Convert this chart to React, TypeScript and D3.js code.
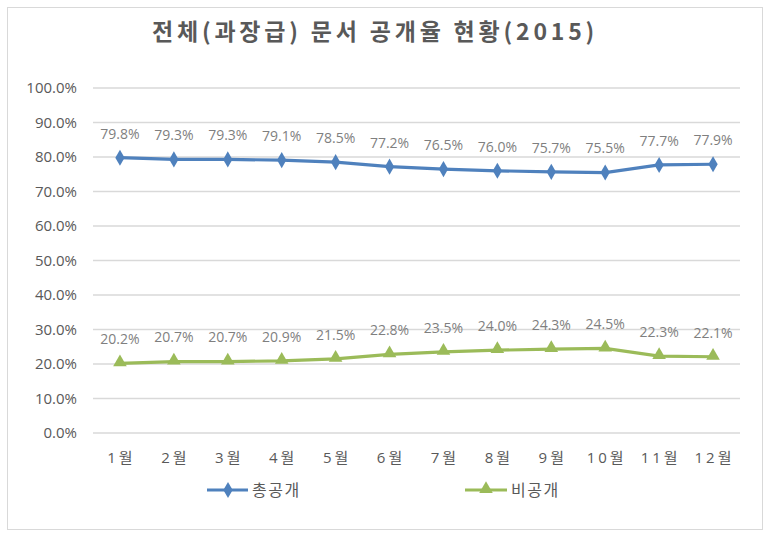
import React from 'react';
import * as d3 from 'd3';

const months = ['1월', '2월', '3월', '4월', '5월', '6월', '7월', '8월', '9월', '10월', '11월', '12월'];
const publicRate = [79.8, 79.3, 79.3, 79.1, 78.5, 77.2, 76.5, 76.0, 75.7, 75.5, 77.7, 77.9];
const privateRate = [20.2, 20.7, 20.7, 20.9, 21.5, 22.8, 23.5, 24.0, 24.3, 24.5, 22.3, 22.1];
const yTicks = [0, 10, 20, 30, 40, 50, 60, 70, 80, 90, 100];
const seriesNames = ['총공개', '비공개'];

const W = 771;
const H = 533;
const plot = { left: 93, right: 740, top: 88, bottom: 433 };
const font = "'Open Sans', 'Noto Sans CJK KR', sans-serif";
const blue = '#4F81BD';
const green = '#9BBB59';

const App = () => {
  const x = d3.scaleBand().domain(months).range([plot.left, plot.right]);
  const y = d3.scaleLinear().domain([0, 100]).range([plot.bottom, plot.top]);
  const cx = (m: string) => (x(m) as number) + x.bandwidth() / 2;

  const line = d3
    .line<number>()
    .x((_, i) => cx(months[i]))
    .y((d) => y(d));

  const diamond = d3.symbol(d3.symbolDiamond, 75)();
  const triangle = d3.symbol(d3.symbolTriangle, 80)();

  return (
    <svg
      width={W}
      height={H}
      style={{ position: 'absolute', left: 0, top: 0, background: '#fff' }}
      fontFamily={font}
    >
      <rect x={7.5} y={7.5} width={755} height={522} fill="#fff" stroke="#d9d9d9" />
      <text
        x={375}
        y={40}
        textAnchor="middle"
        fontSize={23}
        fontWeight="bold"
        fill="#595959"
        letterSpacing={3.8}
        fontFamily="'Noto Sans CJK KR', sans-serif"
      >
        전체(과장급) 문서 공개율 현황(2015)
      </text>

      {yTicks.map((t) => (
        <g key={t}>
          <line x1={plot.left} x2={plot.right} y1={y(t)} y2={y(t)} stroke="#d9d9d9" strokeWidth={1.3} />
          <text x={77} y={y(t)} dy="0.35em" textAnchor="end" fontSize={15} fill="#595959">
            {t.toFixed(1)}%
          </text>
        </g>
      ))}

      {months.map((m) => (
        <text
          key={m}
          x={cx(m) + 1.5}
          y={458}
          dy="0.35em"
          textAnchor="middle"
          fontSize={15}
          fill="#595959"
          letterSpacing={3}
        >
          {m}
        </text>
      ))}

      <path d={line(publicRate) as string} fill="none" stroke={blue} strokeWidth={3.2} />
      <path d={line(privateRate) as string} fill="none" stroke={green} strokeWidth={3.2} />

      {publicRate.map((v, i) => (
        <g key={'p' + i}>
          <path d={diamond as string} transform={`translate(${cx(months[i])},${y(v)})`} fill={blue} />
          <text x={cx(months[i])} y={y(v) - 24} dy="0.35em" textAnchor="middle" fontSize={14} fill="#7f7f7f">
            {v.toFixed(1)}%
          </text>
        </g>
      ))}
      {privateRate.map((v, i) => (
        <g key={'q' + i}>
          <path d={triangle as string} transform={`translate(${cx(months[i])},${y(v) - 1})`} fill={green} />
          <text x={cx(months[i])} y={y(v) - 24} dy="0.35em" textAnchor="middle" fontSize={14} fill="#7f7f7f">
            {v.toFixed(1)}%
          </text>
        </g>
      ))}

      <g>
        <line x1={207} x2={248} y1={490} y2={490} stroke={blue} strokeWidth={3.2} />
        <path d={diamond as string} transform="translate(228,490)" fill={blue} />
        <text x={252} y={490} dy="0.35em" fontSize={16} fill="#595959" letterSpacing={1.5}>
          {seriesNames[0]}
        </text>
        <line x1={465} x2={507} y1={490} y2={490} stroke={green} strokeWidth={3.2} />
        <path d={triangle as string} transform="translate(486,489)" fill={green} />
        <text x={511} y={490} dy="0.35em" fontSize={16} fill="#595959" letterSpacing={1.5}>
          {seriesNames[1]}
        </text>
      </g>
    </svg>
  );
};

export default App;
